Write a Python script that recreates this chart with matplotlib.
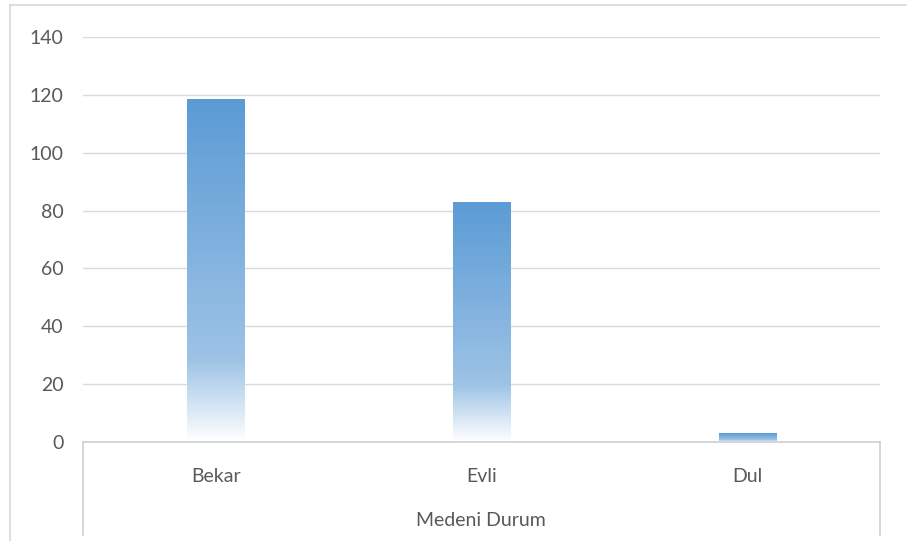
import numpy as np
import matplotlib
matplotlib.use("Agg")
import matplotlib.pyplot as plt
import matplotlib.transforms as mtransforms
from matplotlib.colors import LinearSegmentedColormap
from matplotlib.lines import Line2D

categories = ["Bekar", "Evli", "Dul"]
values = [118.5, 83, 3]
y_ticks = [0, 20, 40, 60, 80, 100, 120, 140]
axis_title = "Medeni Durum"

plt.rcParams['font.family'] = ['Lato', 'DejaVu Sans']
text_color = "#595959"
grid_color = "#D9D9D9"
fs = 14

W, H = 907, 541
fig = plt.figure(figsize=(W / 100, H / 100), dpi=100)
fig.patch.set_facecolor("white")

def fx(px):
    return px / W

def fy(py):
    return 1 - py / H

ax_l, ax_r, ax_t, ax_b = 83, 880, 37, 442
ax = fig.add_axes([fx(ax_l), fy(ax_b), fx(ax_r - ax_l), fy(ax_t) - fy(ax_b)])
ax.set_xlim(-0.5, len(categories) - 0.5)
ax.set_ylim(0, 140)
for s in ax.spines.values():
    s.set_visible(False)
ax.set_yticks(y_ticks)
ax.set_yticklabels([str(v) for v in y_ticks], color=text_color, fontsize=fs)
ax.tick_params(axis='y', length=0, pad=14)
ax.set_xticks([])
ax.yaxis.grid(True, color=grid_color, linewidth=1.0)
ax.set_axisbelow(True)

cmap = LinearSegmentedColormap.from_list(
    "g", [(0.0, "#5B9BD5"), (0.76, "#9DC3E6"), (1.0, "#FFFFFF")])
grad = np.linspace(0, 1, 256).reshape(-1, 1)

bar_w = 0.215
bars = ax.bar(range(len(categories)), values, width=bar_w, color="none",
              edgecolor="none", zorder=2)
for b in bars:
    x0, y0 = b.get_x(), b.get_y()
    w, h = b.get_width(), b.get_height()
    im = ax.imshow(grad, cmap=cmap, aspect='auto',
                   extent=[x0, x0 + w, y0, y0 + h], origin='upper', zorder=2)
    im.set_clip_path(b)

# category axis box lines
lc = "#D0D0D0"
ax.plot([0, 1], [0, 0], transform=ax.transAxes, color=lc, lw=1.2, clip_on=False, zorder=3)
bottom_frac = -(535 - ax_b) / (ax_b - ax_t)
for xx in [0, 1]:
    ax.plot([xx, xx], [0, bottom_frac], transform=ax.transAxes, color=lc, lw=1.2, clip_on=False)

trans = mtransforms.blended_transform_factory(ax.transData, fig.transFigure)
for i, c in enumerate(categories):
    ax.text(i, fy(476), c, transform=trans,
            ha='center', va='center', color=text_color, fontsize=fs)

fig.text(fx(481), fy(520), axis_title, ha='center', va='center', color=text_color, fontsize=fs)

# chart border
fig.add_artist(Line2D([fx(10), 1], [fy(5), fy(5)], color="#D9D9D9", lw=1.2))
fig.add_artist(Line2D([fx(10), fx(10)], [fy(5), 0], color="#D9D9D9", lw=1.2))

fig.savefig("out.png", dpi=100)
